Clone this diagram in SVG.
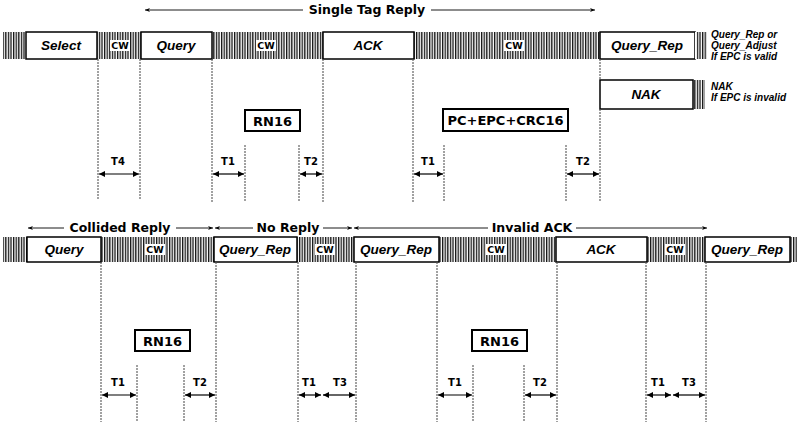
<svg xmlns="http://www.w3.org/2000/svg" width="800" height="427" viewBox="0 0 800 427">
<defs>
<pattern id="h" width="2.6" height="10" patternUnits="userSpaceOnUse"><rect x="0" y="0" width="1.3" height="10" fill="#111"/></pattern>
<marker id="a" viewBox="0 0 10 10" refX="10" refY="5" markerWidth="7" markerHeight="6" markerUnits="userSpaceOnUse" orient="auto-start-reverse"><path d="M0,0 L10,5 L0,10 Z" fill="#000"/></marker>
<marker id="s" viewBox="0 0 10 10" refX="10" refY="5" markerWidth="7" markerHeight="5" markerUnits="userSpaceOnUse" orient="auto-start-reverse"><path d="M0,1 L10,5 L0,9 L3,5 Z" fill="#000"/></marker>
</defs>
<style>
.hatch{fill:url(#h)}
.box{fill:#fff;stroke:#000;stroke-width:1.5}
.bl{font-family:"Liberation Sans",Arial,sans-serif;font-weight:bold;font-style:italic;font-size:13.5px;text-anchor:middle}
.cw{font-family:"DejaVu Sans",sans-serif;font-weight:bold;font-size:9.5px;text-anchor:middle}
.cwbg{fill:#fff}
.vl{stroke:#555;stroke-width:1.1;stroke-dasharray:2 1;fill:none}
.ta{stroke:#000;stroke-width:1.2;marker-start:url(#a);marker-end:url(#a)}
.tl{font-family:"DejaVu Sans",sans-serif;font-weight:bold;font-size:10px;text-anchor:middle}
.rb{fill:#fff;stroke:#000;stroke-width:2}
.rt{font-family:"DejaVu Sans",sans-serif;font-weight:bold;font-size:13px;text-anchor:middle}
.hd{font-family:"DejaVu Sans",sans-serif;font-weight:bold;font-size:12.5px;text-anchor:middle}
.hl{stroke:#000;stroke-width:0.9;fill:none}
.note{font-family:"Liberation Sans",Arial,sans-serif;font-weight:bold;font-style:italic;font-size:10px}
</style>
<rect width="800" height="427" fill="#fff"/>

<!-- Top row header -->
<g id="hdr-single">
<line class="hl" x1="145" y1="10" x2="303" y2="10" marker-start="url(#s)"/>
<text class="hd" x="367" y="14">Single Tag Reply</text>
<line class="hl" x1="431" y1="10" x2="595" y2="10" marker-end="url(#s)"/>
</g>

<!-- Top bar -->
<g id="bar1">
<rect class="hatch" x="3" y="32" width="704" height="27"/>
</g>
<g id="select"><rect class="box" x="26" y="32" width="71" height="27"/><text class="bl" x="61" y="50">Select</text></g>
<g id="cw1"><rect class="cwbg" x="110" y="40" width="20" height="11"/><text class="cw" x="120" y="49">CW</text></g>
<g id="query1"><rect class="box" x="141" y="32" width="71" height="27"/><text class="bl" x="176" y="50">Query</text></g>
<g id="cw2"><rect class="cwbg" x="256" y="40" width="20" height="11"/><text class="cw" x="266" y="49">CW</text></g>
<g id="ack1"><rect class="box" x="323" y="32" width="91" height="27"/><text class="bl" x="368" y="50">ACK</text></g>
<g id="cw3"><rect class="cwbg" x="504" y="40" width="20" height="11"/><text class="cw" x="514" y="49">CW</text></g>
<g id="queryrep1"><rect class="box" x="600" y="32" width="95" height="27"/><text class="bl" x="647" y="50">Query_Rep</text></g>
<rect fill="#fff" x="695" y="32" width="1.5" height="27"/>
<g id="note-valid">
<text class="note" x="711" y="38">Query_Rep or</text>
<text class="note" x="711" y="49">Query_Adjust</text>
<text class="note" x="711" y="60">If EPC is valid</text>
</g>

<g id="nak">
<rect class="hatch" x="693" y="80" width="12" height="29"/>
<rect class="box" x="600" y="80" width="93" height="29"/>
<text class="bl" x="646" y="99">NAK</text>
</g>
<g id="note-invalid">
<text class="note" x="711" y="90">NAK</text>
<text class="note" x="711" y="101">If EPC is invalid</text>
</g>

<g id="rn16-a"><rect class="rb" x="245" y="110" width="55" height="21"/><text class="rt" x="272.5" y="125.5">RN16</text></g>
<g id="pcepc"><rect class="rb" x="443" y="109" width="125" height="22"/><text class="rt" x="505.5" y="125">PC+EPC+CRC16</text></g>

<g id="connectors-top">
<line class="vl" x1="98" y1="59" x2="98" y2="200"/>
<line class="vl" x1="140" y1="59" x2="140" y2="200"/>
<line class="vl" x1="212" y1="59" x2="212" y2="202"/>
<line class="vl" x1="245" y1="145" x2="245" y2="202"/>
<line class="vl" x1="299" y1="145" x2="299" y2="202"/>
<line class="vl" x1="323" y1="59" x2="323" y2="202"/>
<line class="vl" x1="413" y1="59" x2="413" y2="202"/>
<line class="vl" x1="444" y1="145" x2="444" y2="202"/>
<line class="vl" x1="566" y1="145" x2="566" y2="202"/>
<line class="vl" x1="600" y1="109" x2="600" y2="202"/>
<line class="vl" x1="600" y1="59" x2="600" y2="80"/>
<line class="ta" x1="99" y1="174" x2="139" y2="174"/>
<line class="ta" x1="213" y1="174" x2="244" y2="174"/>
<line class="ta" x1="300" y1="174" x2="322" y2="174"/>
<line class="ta" x1="414" y1="174" x2="443" y2="174"/>
<line class="ta" x1="567" y1="174" x2="599" y2="174"/>
</g>
<g id="tlabels-top">
<text class="tl" x="118" y="165">T4</text>
<text class="tl" x="228" y="165">T1</text>
<text class="tl" x="311" y="165">T2</text>
<text class="tl" x="428" y="165">T1</text>
<text class="tl" x="583" y="165">T2</text>
</g>

<!-- Bottom headers -->
<g id="hdr-collided">
<line class="hl" x1="28" y1="228" x2="64" y2="228" marker-start="url(#s)"/>
<text class="hd" x="120" y="232">Collided Reply</text>
<line class="hl" x1="176" y1="228" x2="213" y2="228" marker-end="url(#s)"/>
</g>
<g id="hdr-noreply">
<line class="hl" x1="215" y1="228" x2="253" y2="228" marker-start="url(#s)"/>
<text class="hd" x="288" y="232">No Reply</text>
<line class="hl" x1="323" y1="228" x2="352" y2="228" marker-end="url(#s)"/>
</g>
<g id="hdr-invalid">
<line class="hl" x1="354" y1="228" x2="488" y2="228" marker-start="url(#s)"/>
<text class="hd" x="532" y="232">Invalid ACK</text>
<line class="hl" x1="576" y1="228" x2="707" y2="228" marker-end="url(#s)"/>
</g>

<!-- Bottom bar -->
<g id="bar2"><rect class="hatch" x="3" y="237" width="794" height="25"/></g>
<g id="query2"><rect class="box" x="27" y="237" width="74" height="25"/><text class="bl" x="64" y="254">Query</text></g>
<g id="cw4"><rect class="cwbg" x="145" y="244" width="20" height="11"/><text class="cw" x="155" y="253">CW</text></g>
<g id="queryrep2"><rect class="box" x="214" y="237" width="83" height="25"/><text class="bl" x="255" y="254">Query_Rep</text></g>
<g id="cw5"><rect class="cwbg" x="315" y="244" width="20" height="11"/><text class="cw" x="325" y="253">CW</text></g>
<g id="queryrep3"><rect class="box" x="354" y="237" width="85" height="25"/><text class="bl" x="396" y="254">Query_Rep</text></g>
<g id="cw6"><rect class="cwbg" x="486" y="244" width="20" height="11"/><text class="cw" x="496" y="253">CW</text></g>
<g id="ack2"><rect class="box" x="556" y="237" width="91" height="25"/><text class="bl" x="601" y="254">ACK</text></g>
<g id="cw7"><rect class="cwbg" x="665" y="244" width="20" height="11"/><text class="cw" x="675" y="253">CW</text></g>
<g id="queryrep4"><rect class="box" x="705" y="237" width="85" height="25"/><text class="bl" x="747" y="254">Query_Rep</text></g>

<g id="rn16-b"><rect class="rb" x="135" y="330" width="55" height="21"/><text class="rt" x="162.5" y="346">RN16</text></g>
<g id="rn16-c"><rect class="rb" x="472" y="330" width="55" height="21"/><text class="rt" x="499.5" y="346">RN16</text></g>

<g id="connectors-bottom">
<line class="vl" x1="101" y1="262" x2="101" y2="422"/>
<line class="vl" x1="137" y1="365" x2="137" y2="422"/>
<line class="vl" x1="184" y1="365" x2="184" y2="422"/>
<line class="vl" x1="216" y1="262" x2="216" y2="422"/>
<line class="vl" x1="298" y1="262" x2="298" y2="422"/>
<line class="vl" x1="356" y1="262" x2="356" y2="422"/>
<line class="vl" x1="437" y1="262" x2="437" y2="422"/>
<line class="vl" x1="473" y1="365" x2="473" y2="422"/>
<line class="vl" x1="524" y1="365" x2="524" y2="422"/>
<line class="vl" x1="557" y1="262" x2="557" y2="422"/>
<line class="vl" x1="646" y1="262" x2="646" y2="422"/>
<line class="vl" x1="706" y1="262" x2="706" y2="422"/>
<line class="ta" x1="102" y1="395" x2="136" y2="395"/>
<line class="ta" x1="185" y1="395" x2="215" y2="395"/>
<line class="ta" x1="299" y1="395" x2="321" y2="395"/>
<line class="ta" x1="323" y1="395" x2="355" y2="395"/>
<line class="ta" x1="438" y1="395" x2="472" y2="395"/>
<line class="ta" x1="525" y1="395" x2="556" y2="395"/>
<line class="ta" x1="647" y1="395" x2="671" y2="395"/>
<line class="ta" x1="673" y1="395" x2="705" y2="395"/>
</g>
<g id="tlabels-bottom">
<text class="tl" x="118" y="386">T1</text>
<text class="tl" x="200" y="386">T2</text>
<text class="tl" x="309" y="386">T1</text>
<text class="tl" x="340" y="386">T3</text>
<text class="tl" x="455" y="386">T1</text>
<text class="tl" x="540" y="386">T2</text>
<text class="tl" x="658" y="386">T1</text>
<text class="tl" x="689" y="386">T3</text>
</g>
</svg>
